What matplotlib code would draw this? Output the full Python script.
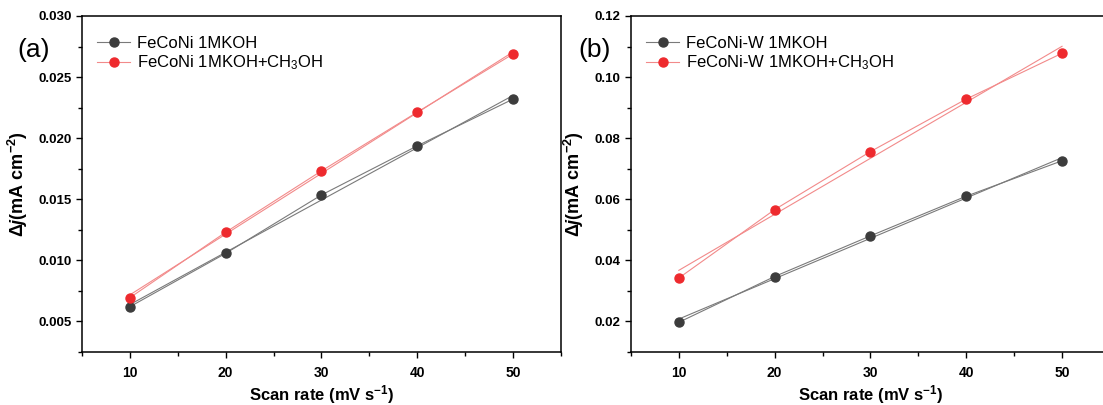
import numpy as np
import matplotlib
matplotlib.use('Agg')
import matplotlib.pyplot as plt
from matplotlib.ticker import MultipleLocator, FormatStrFormatter

plt.rcParams['font.family'] = ['Liberation Sans', 'DejaVu Sans']
plt.rcParams['mathtext.fontset'] = 'custom'
plt.rcParams['mathtext.rm'] = 'Liberation Sans'
plt.rcParams['mathtext.it'] = 'Liberation Sans:italic:bold'
plt.rcParams['mathtext.bf'] = 'Liberation Sans:bold'

scan_rate = [10, 20, 30, 40, 50]

# (a) FeCoNi
feconi_koh = [0.0062, 0.01057, 0.01535, 0.01937, 0.0232]
feconi_meoh = [0.00694, 0.0123, 0.01732, 0.02213, 0.02689]
# (b) FeCoNi-W
feconiw_koh = [0.0197, 0.0347, 0.0480, 0.0610, 0.0726]
feconiw_meoh = [0.0342, 0.0566, 0.0756, 0.0928, 0.1078]

labels_a = ['FeCoNi 1MKOH', 'FeCoNi 1MKOH+CH$_3$OH']
labels_b = ['FeCoNi-W 1MKOH', 'FeCoNi-W 1MKOH+CH$_3$OH']

black = '#3c3c3c'
red = '#ee2a2e'

fig = plt.figure(figsize=(11.03, 4.05), dpi=100)
ax1 = fig.add_axes([0.0743, 0.131, 0.4343, 0.8295])
ax2 = fig.add_axes([0.572, 0.131, 0.4343, 0.8295])

def draw(ax, y1, y2, labels):
    x = np.array(scan_rate)
    for y, c, lc, lab in [(y1, black, '#7a7a7a', labels[0]), (y2, red, '#f28a8a', labels[1])]:
        y = np.array(y)
        k, b = np.polyfit(x, y, 1)
        ax.plot(x, k * x + b, color=lc, lw=0.8)
        ax.plot(x, y, color=lc, lw=0.8, marker='o', ms=6.5,
                mfc=c, mec=c, label=lab)
    ax.legend(loc='upper left', frameon=False, fontsize=12,
              handlelength=2.0, handletextpad=0.4, labelspacing=0.15,
              bbox_to_anchor=(0.0, 0.985))
    ax.set_xlim(5, 55)
    ax.xaxis.set_major_locator(MultipleLocator(10))
    ax.xaxis.set_minor_locator(MultipleLocator(5))
    ax.tick_params(which='both', direction='out', top=False, right=False)
    ax.tick_params(which='major', length=4, width=1)
    ax.tick_params(which='minor', length=3, width=1)
    ax.tick_params(axis='x', labelsize=10, pad=6)
    ax.tick_params(axis='y', labelsize=9.5)
    for s in ax.spines.values():
        s.set_linewidth(1.1)
    ax.set_xlabel('Scan rate (mV s$^{\\mathbf{-1}}$)', fontsize=12, fontweight='bold', labelpad=2)
    ax.set_ylabel('$\\mathbf{\\Delta}$$\\it{j}$(mA cm$^{\\mathbf{-2}}$)',
                  fontsize=13, fontweight='bold', labelpad=6)

draw(ax1, feconi_koh, feconi_meoh, labels_a)
ax1.set_ylim(0.0025, 0.030)
ax1.yaxis.set_major_locator(MultipleLocator(0.005))
ax1.yaxis.set_minor_locator(MultipleLocator(0.0025))
ax1.yaxis.set_major_formatter(FormatStrFormatter('%.3f'))

draw(ax2, feconiw_koh, feconiw_meoh, labels_b)
ax2.set_ylim(0.01, 0.12)
ax2.yaxis.set_major_locator(MultipleLocator(0.02))
ax2.yaxis.set_minor_locator(MultipleLocator(0.01))
ax2.yaxis.set_major_formatter(FormatStrFormatter('%.2f'))

for ax in (ax1, ax2):
    for lbl in ax.get_xticklabels() + ax.get_yticklabels():
        lbl.set_fontweight('bold')

fig.text(0.016, 0.86, '(a)', fontsize=19)
fig.text(0.524, 0.86, '(b)', fontsize=19)

fig.savefig('out.png', dpi=100)
